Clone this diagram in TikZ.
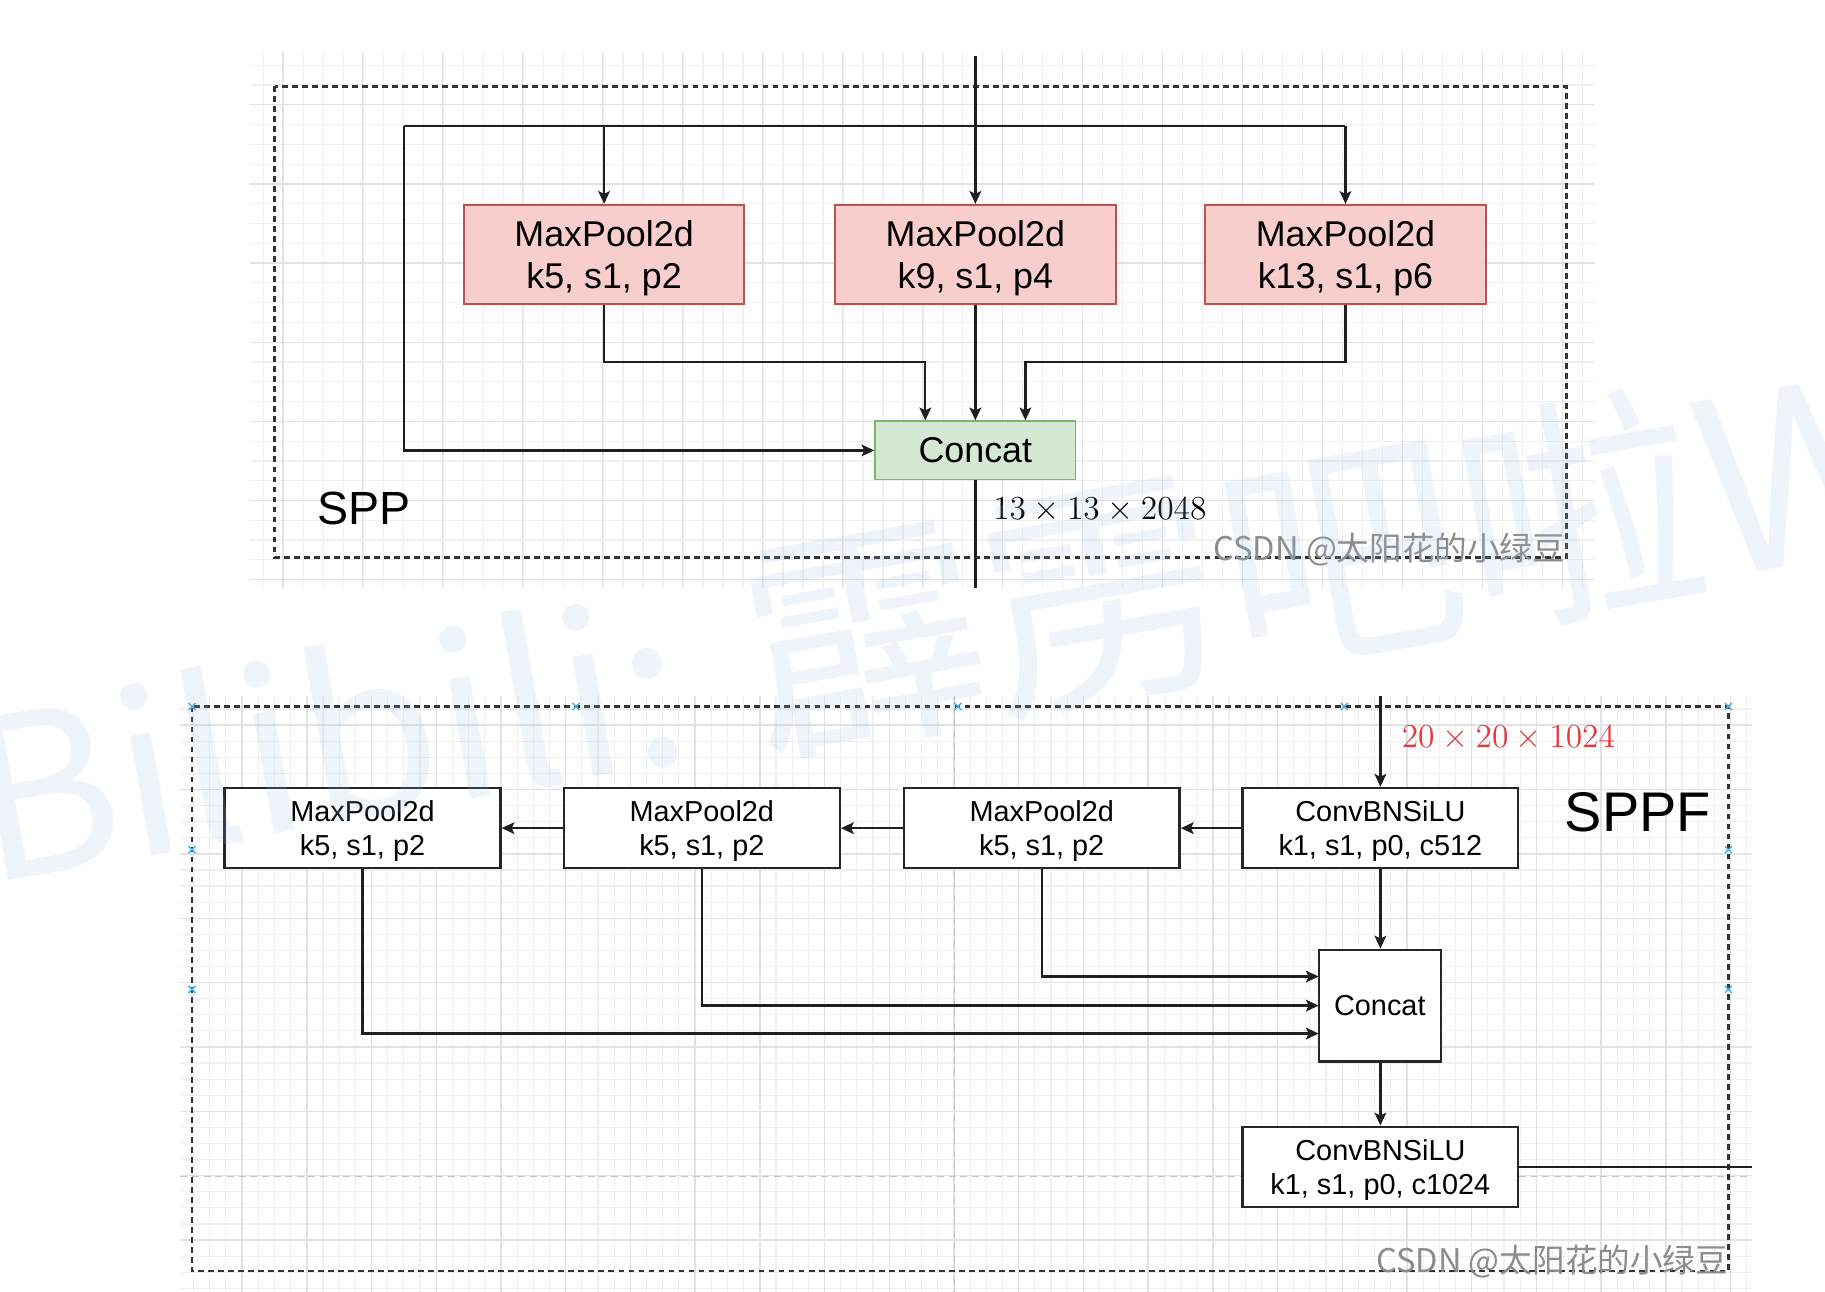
\documentclass[tikz,border=0pt]{standalone}
\usepackage[no-math]{fontspec}
\newfontfamily\arial{Liberation Sans}
\newfontfamily\cjk{Noto Sans CJK SC}
\usetikzlibrary{arrows.meta}
\definecolor{pinkfill}{HTML}{F8CECC}
\definecolor{pinkline}{HTML}{B85450}
\definecolor{greenfill}{HTML}{D5E8D4}
\definecolor{greenline}{HTML}{82B366}
\definecolor{gridmajor}{HTML}{E2E2E2}
\definecolor{gridminor}{HTML}{F0F0F0}
\definecolor{pagebreak}{HTML}{C4C4C4}
\definecolor{labelred}{HTML}{E03A3C}
\definecolor{wmgray}{HTML}{8C8C8C}
\definecolor{wmblue}{HTML}{9FBCE4}
\definecolor{handle}{HTML}{3DB4E8}
\begin{document}
\begin{tikzpicture}[x=0.5pt,y=-0.5pt,
  conn/.style={line width=1pt,draw=black!88,-{Stealth[length=5.5pt,width=5pt,inset=1.2pt]}},
  plain/.style={line width=1pt,draw=black!88},
  pinkbox/.style={draw=pinkline,fill=pinkfill,line width=0.8pt,minimum width=120.5pt,minimum height=42.5pt,inner sep=0pt,text depth=0pt,align=center,font=\arial\fontsize{15.4}{18}\selectfont},
  greenbox/.style={draw=greenline,fill=greenfill,line width=0.8pt,minimum width=86pt,minimum height=25pt,inner sep=0pt,font=\arial\fontsize{15.4}{18}\selectfont},
  whitebox/.style={draw=black!85,fill=white,line width=1pt,minimum width=118.5pt,minimum height=34.5pt,inner sep=0pt,text depth=0pt,align=center,font=\arial\fontsize{12.4}{14.5}\selectfont},
  frame/.style={draw=black!80,line width=1.2pt,dash pattern=on 2.5pt off 1.8pt},
  gmaj/.style={draw=gridmajor,line width=0.6pt},
  gmin/.style={draw=gridminor,line width=0.5pt},
  title/.style={inner sep=0pt,font=\arial},
  wm/.style={inner sep=0pt,text=wmgray,font=\cjk\fontsize{14}{16}\selectfont},
  hmark/.style={draw=handle,line width=0.6pt}
]
\useasboundingbox (0,0) rectangle (1568,1110);
\fill[white] (0,0) rectangle (1568,1110);
% ---------- top grid ----------
\begin{scope}
\clip (215,45) rectangle (1370,505);
\foreach \i in {0,...,72} {\draw[gmin] ({209+\i*17.175},45) -- ({209+\i*17.175},505);}
\foreach \i in {0,...,30} {\draw[gmin] (215,{22+\i*17}) -- (1370,{22+\i*17});}
\foreach \i in {0,...,17} {\draw[gmaj] ({174.3+\i*68.7},45) -- ({174.3+\i*68.7},505);}
\foreach \i in {0,...,7} {\draw[gmaj] (215,{22+\i*68}) -- (1370,{22+\i*68});}
\end{scope}
% ---------- bottom grid ----------
\begin{scope}
\clip (155,598) rectangle (1505,1110);
\foreach \i in {0,...,100} {\draw[gmin] ({152.4+\i*13.9},598) -- ({152.4+\i*13.9},1110);}
\foreach \i in {0,...,40} {\draw[gmin] (155,{567.7+\i*13.825}) -- (1505,{567.7+\i*13.825});}
\foreach \i in {0,...,25} {\draw[gmaj] ({152.4+\i*55.6},598) -- ({152.4+\i*55.6},1110);}
\foreach \i in {0,...,10} {\draw[gmaj] (155,{567.7+\i*55.3}) -- (1505,{567.7+\i*55.3});}
\draw[pagebreak,line width=0.6pt,dash pattern=on 3pt off 2pt] (820,598) -- (820,1110);
\draw[pagebreak,line width=0.6pt,dash pattern=on 3pt off 2pt] (155,1011) -- (1505,1011);
\end{scope}
% ---------- SPP ----------
\draw[frame] (236,74) rectangle (1346,479);
\node[pinkbox] (p1) at (519,218.5) {MaxPool2d\\k5, s1, p2};
\node[pinkbox] (p2) at (838,218.5) {MaxPool2d\\k9, s1, p4};
\node[pinkbox] (p3) at (1156,218.5) {MaxPool2d\\k13, s1, p6};
\node[greenbox] (c1) at (838,387) {Concat};
\coordinate (in1) at (838,48);
\coordinate (tl) at (347,108);
\coordinate (tr) at (1156,108);
\coordinate (j1) at (795,311);
\coordinate (j3) at (881,311);
\coordinate (out1) at (838,505);
\draw[plain] (tl) -- (tr);
\draw[conn] (in1) -- (p2.north);
\draw[conn] (p1.north |- tl) -- (p1.north);
\draw[conn] (tr) -- (p3.north);
\draw[conn] (tl) |- (c1.west);
\draw[conn] (p1.south) |- (j1) -- (j1 |- c1.north);
\draw[conn] (p2.south) -- (c1.north);
\draw[conn] (p3.south) |- (j3) -- (j3 |- c1.north);
\draw[plain] (c1.south) -- (out1);
\node[anchor=west,inner sep=0pt,font=\fontsize{14.5}{17}\selectfont] (lab1) at (853,438) {$13\times13\times2048$};
\node[title,anchor=west,font=\arial\fontsize{20}{24}\selectfont] (spp) at (272,437) {SPP};
\node[wm,anchor=east] (csdn1) at (1345,472) {CSDN @太阳花的小绿豆};
% ---------- SPPF ----------
\draw[frame] (165,607) rectangle (1485,1092);
\foreach \p in {(165,607),(495,607),(823,607),(1155,607),(1485,607),(165,730),(1485,730),(165,850),(1485,850)}
  {\draw[hmark] \p ++(-3,-3) -- ++(6,6) \p ++(-3,3) -- ++(6,-6);}
\node[whitebox] (a) at (1186,711.5) {ConvBNSiLU\\k1, s1, p0, c512};
\node[whitebox] (b) at (895,711.5) {MaxPool2d\\k5, s1, p2};
\node[whitebox] (c) at (603,711.5) {MaxPool2d\\k5, s1, p2};
\node[whitebox] (d) at (311.5,711.5) {MaxPool2d\\k5, s1, p2};
\node[whitebox,minimum width=52.5pt,minimum height=48pt] (c2) at (1185.5,864) {Concat};
\node[whitebox] (e) at (1186,1002.5) {ConvBNSiLU\\k1, s1, p0, c1024};
\coordinate (in2) at (1186,598);
\coordinate (out2) at (1505,1002.5);
\coordinate (k1) at (1133,839);
\coordinate (k2) at (1133,864);
\coordinate (k3) at (1133,888);
\draw[conn] (in2) -- (a.north);
\draw[conn] (a) -- (b);
\draw[conn] (b) -- (c);
\draw[conn] (c) -- (d);
\draw[conn] (a.south) -- (a.south |- c2.north);
\draw[conn] (b.south) |- (k1);
\draw[conn] (c.south) |- (k2);
\draw[conn] (d.south) |- (k3);
\draw[conn] (c2.south -| e.north) -- (e.north);
\draw[plain] (e.east) -- (out2);
\node[anchor=west,inner sep=0pt,text=labelred,font=\fontsize{15.4}{17}\selectfont] (lab2) at (1204,634) {$20\times20\times1024$};
\node[title,anchor=west,font=\arial\fontsize{24}{28}\selectfont] (sppf) at (1344,698) {SPPF};
\node[wm,anchor=east] (csdn2) at (1485,1084) {CSDN @太阳花的小绿豆};
% ---------- watermark ----------
\node[anchor=base west,inner sep=0pt,rotate=10,text=wmblue,opacity=0.16,font=\cjk\fontsize{104}{120}\selectfont] (bili) at (-12,760) {{\fontsize{96}{110}\selectfont Bilibili: }霹雳吧啦Wz};
\end{tikzpicture}
\end{document}
